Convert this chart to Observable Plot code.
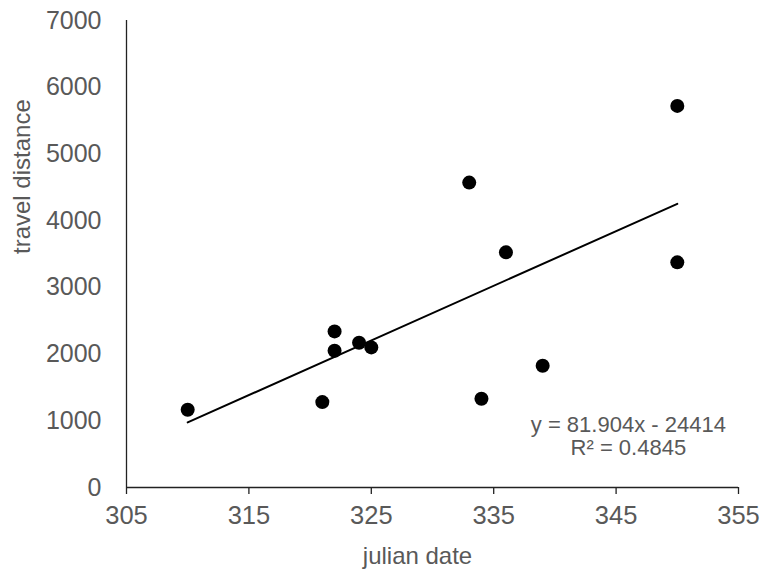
<!DOCTYPE html>
<html>
<head>
<meta charset="utf-8">
<script src="https://cdn.jsdelivr.net/npm/d3@7"></script>
<script src="https://cdn.jsdelivr.net/npm/@observablehq/plot@0.6"></script>
<style>
  html, body { margin: 0; padding: 0; background: #fff; }
  #chart svg { display: block; }
</style>
</head>
<body>
<div id="chart"></div>
<script>
// Data
const julianDate     = [310, 321, 322, 322, 324, 325, 333, 334, 336, 339, 350, 350];
const travelDistance = [1165, 1280, 2340, 2050, 2170, 2100, 4570, 1330, 3525, 1825, 3375, 5720];

// Trend line endpoints (from y = 81.904x - 24414, drawn from 310 to 350)
const trendX = [310, 350];
const trendY = [976, 4252];

const xTicks = [305, 315, 325, 335, 345, 355];
const yTicks = [0, 1000, 2000, 3000, 4000, 5000, 6000, 7000];
const equationText = ["y = 81.904x - 24414", "R² = 0.4845"];
const xLabel = "julian date";
const yLabel = "travel distance";

const points = julianDate.map((d, i) => ({x: d, y: travelDistance[i]}));
const trend = trendX.map((d, i) => ({x: d, y: trendY[i]}));

const gray = "#595959";
const font = "'Liberation Sans', Arial, sans-serif";

const chart = Plot.plot({
  width: 764,
  height: 579,
  marginLeft: 126,
  marginRight: 26,
  marginTop: 20,
  marginBottom: 92,
  style: {fontFamily: font, background: "#fff"},
  x: {domain: [305, 355]},
  y: {domain: [0, 7000]},
  marks: [
    Plot.axisX({ticks: xTicks, tickSize: 7, tickPadding: 11, fontSize: 25.5, color: gray, stroke: "#222", strokeWidth: 1.3, label: null, tickFormat: d => String(d)}),
    Plot.axisY({ticks: yTicks, tickSize: 0, tickPadding: 25, fontSize: 25, color: gray, label: null, tickFormat: d => String(d)}),
    Plot.ruleY([0], {stroke: "#222", strokeWidth: 1.3}),
    Plot.ruleX([305], {stroke: "#222", strokeWidth: 1.3}),
    Plot.line(trend, {x: "x", y: "y", stroke: "#000", strokeWidth: 2}),
    Plot.dot(points, {x: "x", y: "y", r: 7, fill: "#000", stroke: null}),
    Plot.text([equationText.join("\n")], {x: 346, y: 770, text: d => d, fontSize: 22, fill: gray, lineHeight: 1.05, textAnchor: "middle"}),
    Plot.text([xLabel], {frameAnchor: "bottom", dx: -15, dy: 76, fontSize: 24, fill: gray}),
    Plot.text([yLabel], {frameAnchor: "left", dx: -104, rotate: -90, fontSize: 24, fill: gray})
  ]
});
document.getElementById("chart").appendChild(chart);
</script>
</body>
</html>
